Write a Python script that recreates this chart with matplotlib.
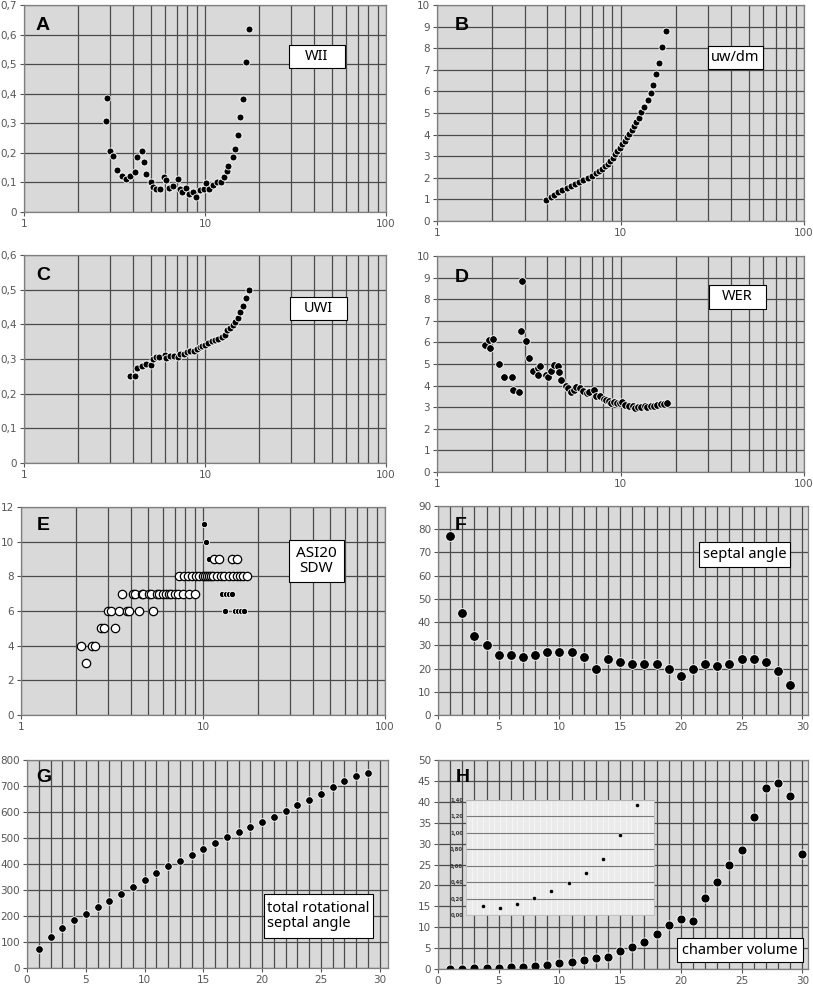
import matplotlib
matplotlib.use("Agg")
import matplotlib.pyplot as plt
from matplotlib.patches import Rectangle
from matplotlib.ticker import FixedLocator, MultipleLocator, FuncFormatter, NullFormatter

# ---------------- data ----------------
# A: WII vs diameter (log x)
wii_x = [2.86, 2.84, 3.00, 3.12, 3.27, 3.46, 3.64, 3.85, 4.10, 4.20, 4.46, 4.62, 4.71, 5.00, 5.13,
         5.38, 5.61, 5.95, 6.08, 6.32, 6.65, 7.06, 7.23, 7.49, 7.85, 8.12, 8.58, 8.96, 9.34, 9.91,
         10.1, 10.57, 11.07, 11.7, 12.2, 12.7, 13.2, 13.4, 14.2, 14.7, 15.2, 15.6, 16.2, 16.9, 17.5]
wii_y = [0.386, 0.309, 0.207, 0.188, 0.141, 0.123, 0.110, 0.122, 0.135, 0.187, 0.206, 0.169, 0.128, 0.100, 0.083,
         0.079, 0.079, 0.117, 0.107, 0.080, 0.089, 0.113, 0.078, 0.069, 0.080, 0.060, 0.069, 0.052, 0.074, 0.079,
         0.099, 0.079, 0.091, 0.101, 0.101, 0.120, 0.140, 0.156, 0.186, 0.213, 0.260, 0.322, 0.381, 0.506, 0.620]

# B: uw/dm
uwdm_x = [3.91, 4.16, 4.35, 4.54, 4.77, 5.08, 5.34, 5.64, 5.93, 6.26, 6.61, 6.95, 7.31, 7.65, 7.94,
          8.22, 8.50, 8.79, 9.08, 9.35, 9.63, 9.96, 10.25, 10.56, 10.87, 11.19, 11.53, 11.87, 12.22, 12.59,
          12.96, 13.4, 14.15, 14.75, 15.1, 15.7, 16.2, 16.9, 17.7]
uwdm_y = [0.97, 1.11, 1.22, 1.33, 1.42, 1.51, 1.60, 1.71, 1.81, 1.90, 1.99, 2.07, 2.21, 2.30, 2.42,
          2.53, 2.65, 2.78, 2.92, 3.09, 3.26, 3.40, 3.55, 3.70, 3.87, 4.03, 4.20, 4.38, 4.57, 4.78,
          5.03, 5.26, 5.59, 5.91, 6.31, 6.79, 7.31, 8.06, 8.81]

# C: UWI
uwi_x = [3.85, 4.10, 4.22, 4.48, 4.70, 5.04, 5.15, 5.35, 5.59, 5.98, 6.08, 6.40, 6.73, 7.06, 7.30,
         7.68, 7.95, 8.29, 8.73, 9.03, 9.34, 9.66, 10.0, 10.43, 10.88, 11.4, 11.85, 12.42, 12.85, 13.24,
         13.7, 14.2, 14.7, 15.2, 15.6, 16.2, 16.9, 17.5]
uwi_y = [0.252, 0.250, 0.273, 0.279, 0.287, 0.284, 0.301, 0.305, 0.305, 0.311, 0.304, 0.309, 0.308, 0.305, 0.314,
         0.315, 0.319, 0.323, 0.324, 0.329, 0.336, 0.338, 0.340, 0.346, 0.351, 0.355, 0.359, 0.364, 0.370, 0.384,
         0.388, 0.399, 0.407, 0.417, 0.435, 0.452, 0.477, 0.500]

# D: WER
wer_x = [1.83, 1.92, 1.95, 2.03, 2.18, 2.33, 2.55, 2.61, 2.80, 2.88, 2.91, 3.04, 3.17, 3.35, 3.53,
         3.53, 3.65, 3.91, 4.04, 4.18, 4.32, 4.54, 4.65, 4.75, 5.04, 5.19, 5.37, 5.59, 5.74, 6.03,
         6.26, 6.53, 6.75, 7.13, 7.31, 7.72, 8.08, 8.35, 8.67, 8.9, 9.2, 9.59, 9.96, 10.2, 10.56,
         11.1, 11.7, 12.07, 12.5, 12.9, 13.6, 14.0, 14.6, 15.2, 15.9, 16.6, 17.2, 17.9]
wer_y = [5.90, 6.11, 5.76, 6.14, 5.02, 4.40, 4.40, 3.81, 3.69, 6.53, 8.84, 6.05, 5.28, 4.69, 4.81,
         4.49, 4.91, 4.49, 4.40, 4.69, 4.95, 4.92, 4.64, 4.26, 3.98, 3.87, 3.70, 3.80, 3.92, 3.90,
         3.75, 3.66, 3.72, 3.81, 3.53, 3.50, 3.40, 3.33, 3.30, 3.21, 3.26, 3.19, 3.18, 3.23, 3.12,
         3.07, 3.04, 2.98, 3.01, 3.00, 3.04, 3.01, 3.04, 3.04, 3.09, 3.13, 3.15, 3.18]

# E: ASI20 (filled) and SDW (open)
asi20_x = [10.1, 10.4, 10.8, 11.0, 11.3, 11.9, 12.2, 12.7, 13.4, 13.9, 14.4, 13.2, 15.0, 15.6, 16.2, 16.8]
asi20_y = [11, 10, 9, 8, 8, 8, 8, 7, 7, 7, 7, 6, 6, 6, 6, 6]
sdw_x = [2.13, 2.29, 2.47, 2.56, 2.75, 2.84, 3.29,
         3.02, 3.12, 3.46, 3.82, 3.93, 4.46, 5.32,
         3.61, 4.11, 4.21, 4.61, 4.71, 5.06, 5.17, 5.57, 5.76, 6.06, 6.23, 6.50, 6.71, 7.05, 7.26, 7.74, 8.41, 9.00,
         7.41, 7.90, 8.30, 8.70, 9.12, 9.55, 9.96, 10.2, 10.5, 10.8, 11.0, 11.3, 11.9, 12.5, 13.1, 13.9, 14.7,
         15.3, 16.0, 16.6, 17.4,
         11.5, 12.3, 14.4, 15.3]
sdw_y = [4, 3, 4, 4, 5, 5, 5,
         6, 6, 6, 6, 6, 6, 6,
         7, 7, 7, 7, 7, 7, 7, 7, 7, 7, 7, 7, 7, 7, 7, 7, 7, 7,
         8, 8, 8, 8, 8, 8, 8, 8, 8, 8, 8, 8, 8, 8, 8, 8, 8,
         8, 8, 8, 8,
         9, 9, 9, 9]

# F: septal angle per chamber
chamber_f = list(range(1, 30))
septal_angle = [77, 44, 34, 30, 26, 26, 25, 26, 27, 27, 27, 25, 20, 24, 23,
                22, 22, 22, 20, 17, 20, 22, 21, 22, 24, 24, 23, 19, 13]

# G: total rotational septal angle
chamber_g = list(range(1, 30))
total_angle = [73, 118, 153, 183, 209, 233, 259, 286, 313, 338, 367, 392, 412, 435, 459,
               479, 503, 524, 544, 562, 582, 604, 626, 647, 671, 695, 718, 737, 749]

# H: chamber volume
chamber_h = list(range(1, 31))
chamber_volume = [0.107, 0.086, 0.131, 0.205, 0.291, 0.393, 0.512, 0.680, 0.971, 1.336,
                  1.6, 2.1, 2.7, 2.8, 4.2, 5.3, 6.4, 8.4, 10.5, 12.0,
                  11.5, 17.1, 20.9, 25.0, 28.4, 36.3, 43.2, 44.6, 41.3, 27.6]
inset_n = 10

# ---------------- figure ----------------
W, H = 813, 988
fig = plt.figure(figsize=(W / 100, H / 100), dpi=100)
fig.patch.set_facecolor("white")

TICKC = "#555555"
GRIDC = "#4a4a4a"
BG = "#d9d9d9"


def add_ax(l, t, r, b):
    return fig.add_axes([l / W, 1 - b / H, (r - l) / W, (b - t) / H])


def comma_fmt(dec):
    def f(v, pos):
        if abs(v) < 1e-12 and dec > 0 and dec < 2:
            return "0"
        s = f"{v:.{dec}f}".replace(".", ",")
        return s
    return FuncFormatter(f)


def style(ax):
    ax.set_facecolor(BG)
    for s in ax.spines.values():
        s.set_color("#7f7f7f")
        s.set_linewidth(0.9)
    ax.tick_params(axis="both", which="major", colors=TICKC, labelsize=7.5,
                   length=3, width=0.8, direction="out", pad=2)
    ax.tick_params(axis="both", which="minor", length=0)
    ax.set_axisbelow(True)
    for lab in ax.get_xticklabels() + ax.get_yticklabels():
        lab.set_color(TICKC)


def log_axes(ax, ymax, ystep, ydec):
    ax.set_xscale("log")
    ax.set_xlim(1, 100)
    ax.xaxis.set_major_locator(FixedLocator([1, 10, 100]))
    ax.xaxis.set_major_formatter(FuncFormatter(lambda v, p: f"{v:g}"))
    minors = [m * d for d in (1, 10) for m in range(2, 10)]
    ax.xaxis.set_minor_locator(FixedLocator(minors))
    ax.xaxis.set_minor_formatter(NullFormatter())
    ax.set_ylim(0, ymax)
    ax.yaxis.set_major_locator(MultipleLocator(ystep))
    ax.yaxis.set_major_formatter(comma_fmt(ydec))
    ax.grid(True, axis="x", which="both", color=GRIDC, lw=0.9)
    ax.grid(True, axis="y", which="major", color=GRIDC, lw=0.9)
    style(ax)


def lin_axes(ax, xmax, ymax, ystep):
    ax.set_xlim(0, xmax)
    ax.xaxis.set_major_locator(FixedLocator(list(range(0, 31, 5))))
    ax.xaxis.set_minor_locator(MultipleLocator(1))
    ax.set_ylim(0, ymax)
    ax.yaxis.set_major_locator(MultipleLocator(ystep))
    ax.grid(True, axis="x", which="both", color=GRIDC, lw=0.9)
    ax.grid(True, axis="y", which="major", color=GRIDC, lw=0.9)
    style(ax)


def letter(x, y, s):
    fig.text(x / W, 1 - y / H, s, ha="center", va="center", fontsize=14,
             fontweight="bold", family="Liberation Sans", color="black")


def label_box(l, t, r, b, s, fs=10.5, align="center"):
    fig.add_artist(Rectangle((l / W, 1 - b / H), (r - l) / W, (b - t) / H,
                             transform=fig.transFigure, facecolor="white",
                             edgecolor="black", lw=0.8, zorder=5))
    fig.text((l + r) / 2 / W, 1 - (t + b) / 2 / H, s, ha="center", va="center",
             fontsize=fs, family="Noto Sans", color="black", zorder=6,
             linespacing=1.05, multialignment=align)


dot = dict(ls="none", marker="o", mfc="black", mec="white", mew=0.6)

# A
axA = add_ax(24, 5, 386, 212)
log_axes(axA, 0.7, 0.1, 1)
axA.plot(wii_x, wii_y, ms=5, **dot)
letter(43, 25, "A")
label_box(289, 45, 345, 68, "WII")

# B
axB = add_ax(437, 5, 804, 221)
log_axes(axB, 10, 1, 0)
axB.plot(uwdm_x, uwdm_y, ms=5, **dot)
letter(462, 26, "B")
label_box(708, 46, 763, 69, "uw/dm")

# C
axC = add_ax(24, 255, 386, 463)
log_axes(axC, 0.6, 0.1, 1)
axC.plot(uwi_x, uwi_y, ms=5, **dot)
letter(43, 275, "C")
label_box(290, 297, 347, 320, "UWI")

# D
axD = add_ax(437, 256, 804, 472)
log_axes(axD, 10, 1, 0)
axD.plot(wer_x, wer_y, ms=5.5, **dot)
letter(462, 277, "D")
label_box(709, 285, 766, 309, "WER")

# E
axE = add_ax(21, 507, 385, 715)
log_axes(axE, 12, 2, 0)
axE.plot(asi20_x, asi20_y, ms=4.5, **dot)
axE.plot(sdw_x, sdw_y, ls="none", marker="o", ms=6, mfc="white", mec="black", mew=0.9)
letter(43, 525, "E")
label_box(289, 540, 344, 582, "ASI20\nSDW", fs=11)

# F
axF = add_ax(438, 506, 808, 715)
lin_axes(axF, 30.47, 90, 10)
axF.plot(chamber_f, septal_angle, ms=7, **dot)
letter(461, 525, "F")
label_box(699, 542, 790, 567, "septal angle")

# G
axG = add_ax(27, 760, 388, 968)
lin_axes(axG, 30.7, 800, 100)
axG.plot(chamber_g, total_angle, ms=5.5, **dot)
letter(44, 777, "G")
label_box(264, 894, 373, 938, "total rotational\nseptal angle", align="left")

# H
axH = add_ax(438, 760, 808, 969)
lin_axes(axH, 30.47, 50, 5)
axH.plot(chamber_h, chamber_volume, ms=6.5, **dot)
letter(463, 777, "H")
label_box(677, 938, 803, 962, "chamber volume")

# H inset
axI = add_ax(466, 800, 654, 915)
axI.set_facecolor("#ebebeb")
axI.set_xlim(0, 11)
axI.set_ylim(0, 1.4)
axI.yaxis.set_major_locator(MultipleLocator(0.2))
axI.yaxis.set_major_formatter(comma_fmt(2))
axI.xaxis.set_major_locator(MultipleLocator(1))
axI.xaxis.set_minor_locator(MultipleLocator(1 / 3))
axI.set_xticklabels([])
axI.grid(True, axis="y", color="#7a7a7a", lw=0.8)
axI.grid(True, axis="x", which="both", color="#f7f7f7", lw=0.6)
axI.set_axisbelow(True)
for s in axI.spines.values():
    s.set_color("#bdbdbd")
    s.set_linewidth(0.6)
axI.tick_params(axis="y", labelsize=3.8, colors="#333333", length=0, pad=2)
axI.tick_params(axis="x", length=0, which="both")
for lab in axI.get_yticklabels():
    lab.set_fontweight("bold")
axI.plot(chamber_h[:inset_n], chamber_volume[:inset_n], ls="none", marker="o",
         ms=3, mfc="black", mec="white", mew=0.4)

fig.savefig("out.png", dpi=100, facecolor="white")
